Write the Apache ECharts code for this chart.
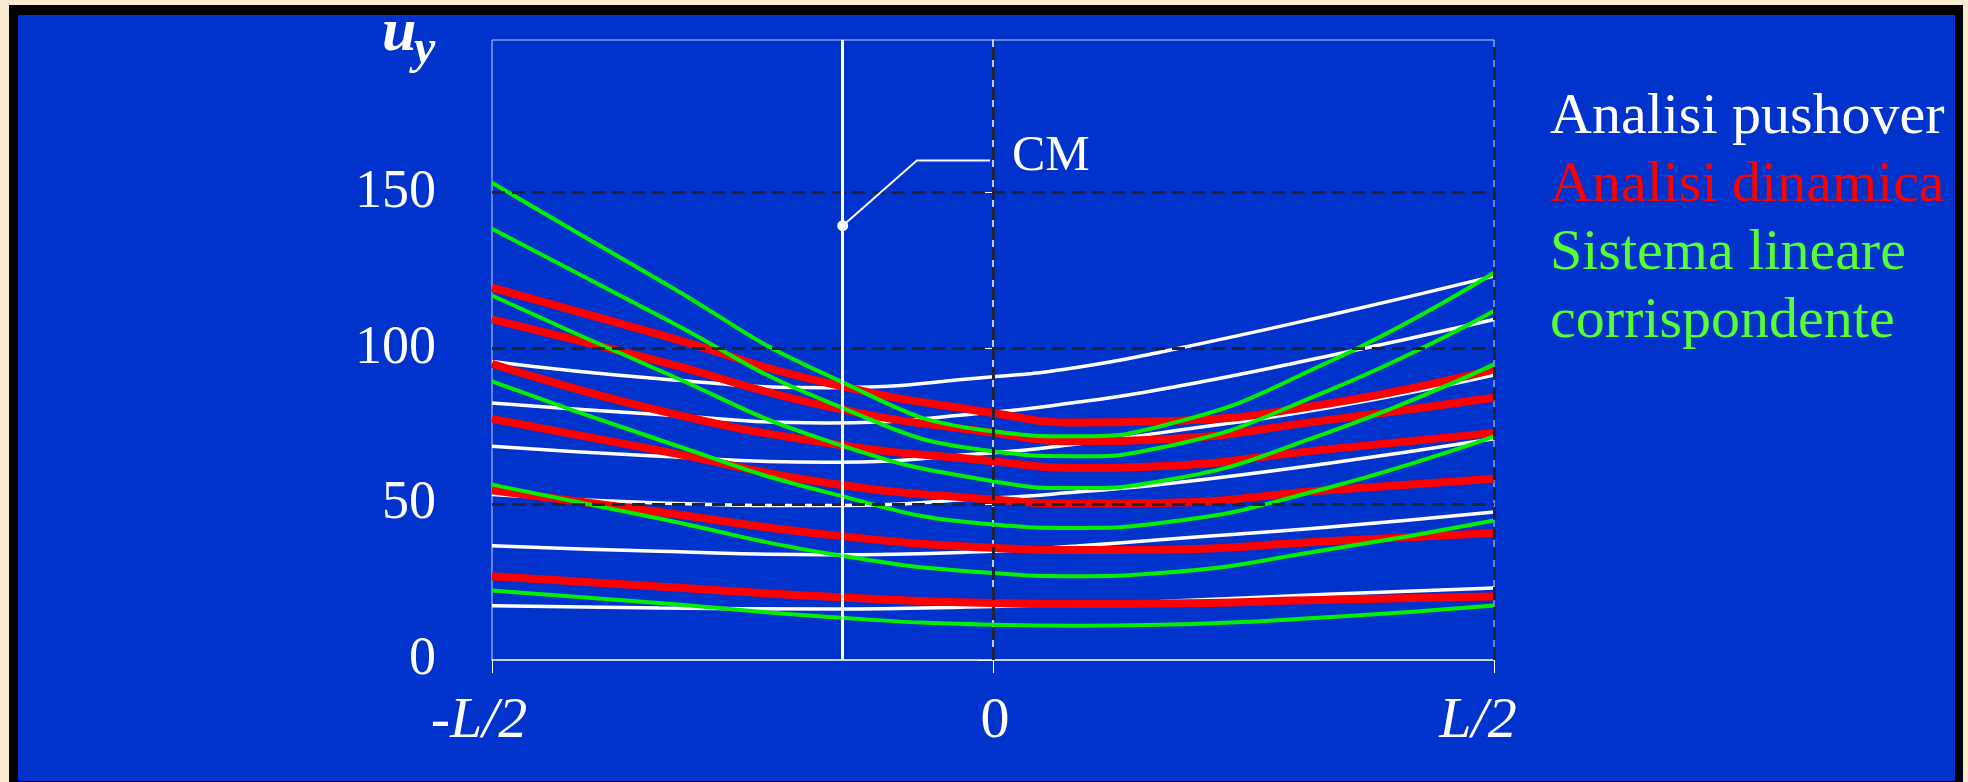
<!DOCTYPE html>
<html><head><meta charset="utf-8">
<script src="https://cdn.jsdelivr.net/npm/echarts@6/dist/echarts.min.js"></script>
<style>
html,body{margin:0;padding:0;width:1968px;height:782px;overflow:hidden;background:#f9ebd2;}
#frame{position:absolute;left:9px;top:5px;width:1954px;height:800px;background:#000;}
#panel{position:absolute;left:18px;top:15px;width:1937px;height:766px;background:#0033cc;}
#chart{position:absolute;left:0;top:0;width:1968px;height:782px;}
</style></head><body>
<div id="frame"></div><div id="panel"></div><div id="chart"></div>
<script>
// ---- data ----
const xPositions = [-0.5, -1/3, -1/6, 0, 1/12, 1/6, 1/3, 0.5];
const xTickValues = [-0.5, 0, 0.5];
const xTickLabels = ['-L/2', '0', 'L/2'];
const yTickValues = [0, 50, 100, 150];
const seriesNames = ['Analisi pushover', 'Analisi dinamica', 'Sistema lineare\ncorrispondente'];

const pushover = [
  [95.8, 90.3, 87.4, 90.9, 93.9, 98.8, 110.5, 123.2],
  [82.5, 78.8, 76.1, 79.5, 82.7, 86.8, 97.5, 109.3],
  [68.6, 65.4, 63.5, 66.5, 69.3, 72.9, 80.9, 91.5],
  [53.1, 50.4, 49.6, 52.0, 53.9, 56.3, 63.1, 71.0],
  [36.7, 34.9, 33.8, 34.9, 36.6, 38.6, 42.6, 47.5],
  [17.4, 16.7, 16.4, 17.2, 18.0, 18.8, 21.1, 23.1]
];
const dinamica = [
  [119.5, 104.5, 89.0, 79.3, 76.2, 76.6, 82.2, 93.3],
  [109.3, 95.9, 81.5, 72.9, 70.2, 70.8, 77.0, 84.2],
  [95.1, 80.1, 69.7, 63.8, 61.6, 62.2, 67.6, 72.9],
  [77.4, 67.3, 56.9, 51.5, 50.2, 50.4, 54.5, 58.2],
  [54.5, 47.5, 40.3, 36.0, 35.3, 35.4, 38.1, 40.8],
  [26.9, 23.6, 20.4, 18.3, 18.0, 18.1, 19.3, 20.4]
];
const lineare = [
  [153.2, 122.0, 91.6, 73.4, 71.8, 75.0, 95.4, 124.3],
  [138.4, 110.5, 83.1, 67.0, 65.4, 68.1, 86.3, 112.0],
  [117.0, 93.0, 70.5, 57.4, 55.2, 57.4, 72.9, 94.9],
  [89.4, 70.7, 53.9, 43.5, 42.4, 44.0, 55.2, 71.8],
  [56.3, 45.4, 34.3, 27.9, 26.9, 27.9, 35.4, 44.8],
  [22.3, 18.3, 13.9, 11.3, 11.0, 11.3, 13.7, 17.5]
];
const cmPosition = -0.15;
const cmLeader = [[-0.15, 139.4], [-0.076, 160.3], [-0.003, 160.3]];
const cmLabel = 'CM';
const yNameMain = 'u';
const yNameSub = 'y';

// ---- chart ----
const FONT = '"Liberation Serif", "Times New Roman", serif';
const chart = echarts.init(document.getElementById('chart'), null, {renderer: 'canvas'});

function toPairs(arr) { return xPositions.map((x, i) => [x, arr[i]]); }

const series = [];
series.push({
  type: 'line', data: [[-0.5, 0]], symbol: 'none', silent: true, z: 1,
  lineStyle: {opacity: 0},
  markLine: {
    silent: true, symbol: ['none', 'none'], label: {show: false}, animation: false,
    lineStyle: {color: '#1e2438', width: 3, type: [13, 7]},
    emphasis: {disabled: true},
    data: [{yAxis: 50}, {yAxis: 100}, {yAxis: 150}, {xAxis: 0}, {xAxis: 0.5}]
  }
});
pushover.forEach(a => series.push({
  name: seriesNames[0], type: 'line', smooth: 0.5, symbol: 'none', z: 2, silent: true,
  lineStyle: {color: '#ffffff', width: 3.5}, data: toPairs(a)
}));
dinamica.forEach(a => series.push({
  name: seriesNames[1], type: 'line', smooth: 0.5, symbol: 'none', z: 3, silent: true,
  lineStyle: {color: '#ff0000', width: 8}, data: toPairs(a)
}));
lineare.forEach(a => series.push({
  name: seriesNames[2], type: 'line', smooth: 0.5, symbol: 'none', z: 4, silent: true,
  lineStyle: {color: '#00f000', width: 4}, data: toPairs(a)
}));
series.push({
  type: 'line', z: 6, silent: true, symbol: 'none', showSymbol: true,
  itemStyle: {color: '#ffffff'},
  lineStyle: {color: '#ffffff', width: 2},
  data: [{value: cmLeader[0], symbol: 'circle', symbolSize: 11}, {value: cmLeader[1]}, {value: cmLeader[2]}],
  endLabel: {show: true, formatter: cmLabel, distance: 22, offset: [0, -4], color: '#ffffff',
    fontFamily: FONT, fontSize: 50},
  markLine: {
    silent: true, symbol: ['none', 'none'], label: {show: false}, animation: false,
    lineStyle: {color: '#ffffff', width: 3, type: 'solid'},
    emphasis: {disabled: true},
    data: [{xAxis: cmPosition}]
  }
});

const labelFont = {fontFamily: FONT, fontStyle: 'italic', fontSize: 58, lineHeight: 58, color: '#ffffff'};

const option = {
  animation: false,
  backgroundColor: 'transparent',
  grid: {left: 492, right: 474, top: 40, bottom: 122, show: true, borderColor: '#c8d2f5', borderWidth: 1, backgroundColor: 'transparent'},
  xAxis: {
    type: 'value', min: -0.5, max: 0.5,
    axisLine: {show: true, onZero: false, lineStyle: {color: '#e8eeff', width: 1.5}},
    axisTick: {show: true, customValues: xTickValues, length: 13, lineStyle: {color: '#ffffff', width: 1}},
    splitLine: {show: false},
    axisLabel: {
      customValues: xTickValues, margin: 33, ...labelFont,
      formatter: function (v) {
        const i = xTickValues.indexOf(v);
        if (i < 0) return '';
        return '{' + ['a', 'b', 'c'][i] + '|' + xTickLabels[i] + '}';
      },
      rich: {
        a: {...labelFont, padding: [0, 26, 0, 0]},
        b: {...labelFont, fontStyle: 'normal', padding: [0, 0, 0, 4]},
        c: {...labelFont, padding: [0, 32, 0, 0]}
      }
    }
  },
  yAxis: {
    type: 'value', min: 0, max: 199,
    axisLine: {show: true, lineStyle: {color: '#ffffff', width: 1.5}},
    axisTick: {show: true, customValues: yTickValues, length: 15, lineStyle: {color: '#ffffff', width: 1}},
    splitLine: {show: false},
    axisLabel: {customValues: yTickValues, margin: 56, color: '#ffffff', fontFamily: FONT, fontSize: 54, padding: [0, 0, 18, 0]}
  },
  graphic: [
    {type: 'text', x: 382, y: 34, z: 10, style: {text: yNameMain, fill: '#ffffff', font: 'italic bold 62px ' + FONT, verticalAlign: 'middle', textVerticalAlign: 'middle'}},
    {type: 'text', x: 414, y: 51, z: 10, style: {text: yNameSub, fill: '#ffffff', font: 'italic bold 48px ' + FONT, verticalAlign: 'middle', textVerticalAlign: 'middle'}},
    {type: 'text', x: 1550, y: 83.4, z: 10, style: {text: seriesNames[0], fill: '#ffffff', font: '58px ' + FONT, lineHeight: 68, verticalAlign: 'top', textVerticalAlign: 'top'}},
    {type: 'text', x: 1550, y: 151.4, z: 10, style: {text: seriesNames[1], fill: '#ff0000', font: '58px ' + FONT, lineHeight: 68, verticalAlign: 'top', textVerticalAlign: 'top'}},
    {type: 'text', x: 1550, y: 219.4, z: 10, style: {text: seriesNames[2], fill: '#55ff33', font: '58px ' + FONT, lineHeight: 68, verticalAlign: 'top', textVerticalAlign: 'top'}}
  ],
  series: series
};
chart.setOption(option);
</script>
</body></html>
